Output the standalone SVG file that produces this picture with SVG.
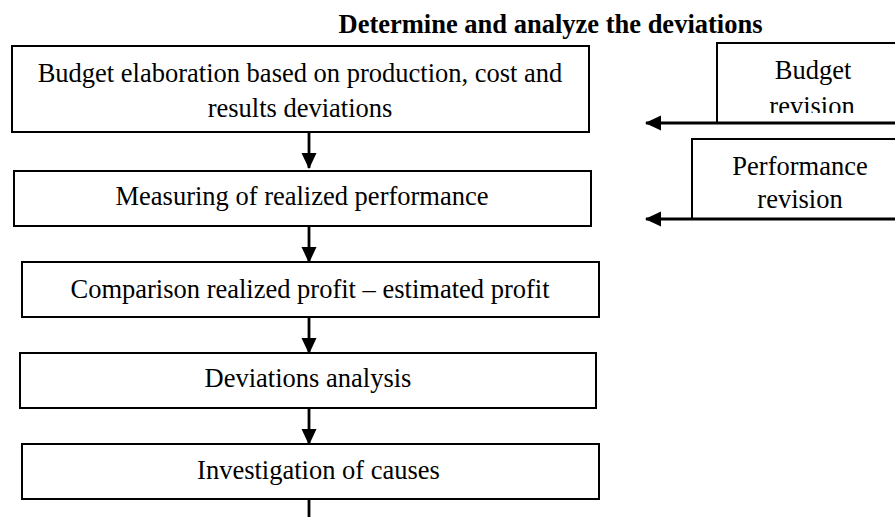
<svg xmlns="http://www.w3.org/2000/svg" width="895" height="517" viewBox="0 0 895 517">
<style>
  .box { fill: #fff; stroke: #000; stroke-width: 2; }
  .side { fill: none; stroke: #000; stroke-width: 2; }
  .conn { fill: none; stroke: #000; stroke-width: 2.8; }
  text { font-family: "Liberation Serif", "Times New Roman", serif; font-size: 26.5px; fill: #000; }
  .c { text-anchor: middle; }
  .title { font-weight: bold; }
</style>
<defs>
  <marker id="ah" markerUnits="userSpaceOnUse" markerWidth="16" markerHeight="16" refX="15" refY="7.5" orient="auto">
    <path d="M0,0 L16,7.5 L0,15 z" fill="#000"/>
  </marker>
  <clipPath id="clipB"><rect x="717" y="43" width="200" height="70"/></clipPath>
</defs>
<text id="title" class="title c" x="550.5" y="33">Determine and analyze the deviations</text>
<g id="n1"><rect class="box" x="12" y="46" width="577" height="86"/>
  <text class="c" x="300" y="82">Budget elaboration based on production, cost and</text>
  <text class="c" x="300" y="117">results deviations</text></g>
<g id="n2"><rect class="box" x="14" y="171" width="577" height="55"/>
  <text class="c" x="302" y="205">Measuring of realized performance</text></g>
<g id="n3"><rect class="box" x="22" y="262" width="577" height="55"/>
  <text class="c" x="310" y="298">Comparison realized profit – estimated profit</text></g>
<g id="n4"><rect class="box" x="20" y="353" width="576" height="55"/>
  <text class="c" x="308" y="387">Deviations analysis</text></g>
<g id="n5"><rect class="box" x="22" y="444" width="577" height="55"/>
  <text class="c" x="318.5" y="479">Investigation of causes</text></g>
<g id="n6"><path class="side" d="M717,123 V43 H900"/>
  <g clip-path="url(#clipB)">
  <text class="c" x="813" y="79">Budget</text>
  <text class="c" x="812" y="115">revision</text></g></g>
<g id="n7"><path class="side" d="M692,219 V139 H900"/>
  <text class="c" x="800" y="175">Performance</text>
  <text class="c" x="800" y="208">revision</text></g>
<g id="connectors">
  <line class="conn" x1="309" y1="132" x2="309" y2="168" marker-end="url(#ah)"/>
  <line class="conn" x1="309" y1="226" x2="309" y2="262" marker-end="url(#ah)"/>
  <line class="conn" x1="309" y1="317" x2="309" y2="353" marker-end="url(#ah)"/>
  <line class="conn" x1="309" y1="408" x2="309" y2="444" marker-end="url(#ah)"/>
  <line class="conn" x1="309" y1="499" x2="309" y2="517"/>
  <line class="conn" x1="895" y1="123" x2="646" y2="123" marker-end="url(#ah)"/>
  <line class="conn" x1="895" y1="219" x2="646" y2="219" marker-end="url(#ah)"/>
</g>
</svg>
